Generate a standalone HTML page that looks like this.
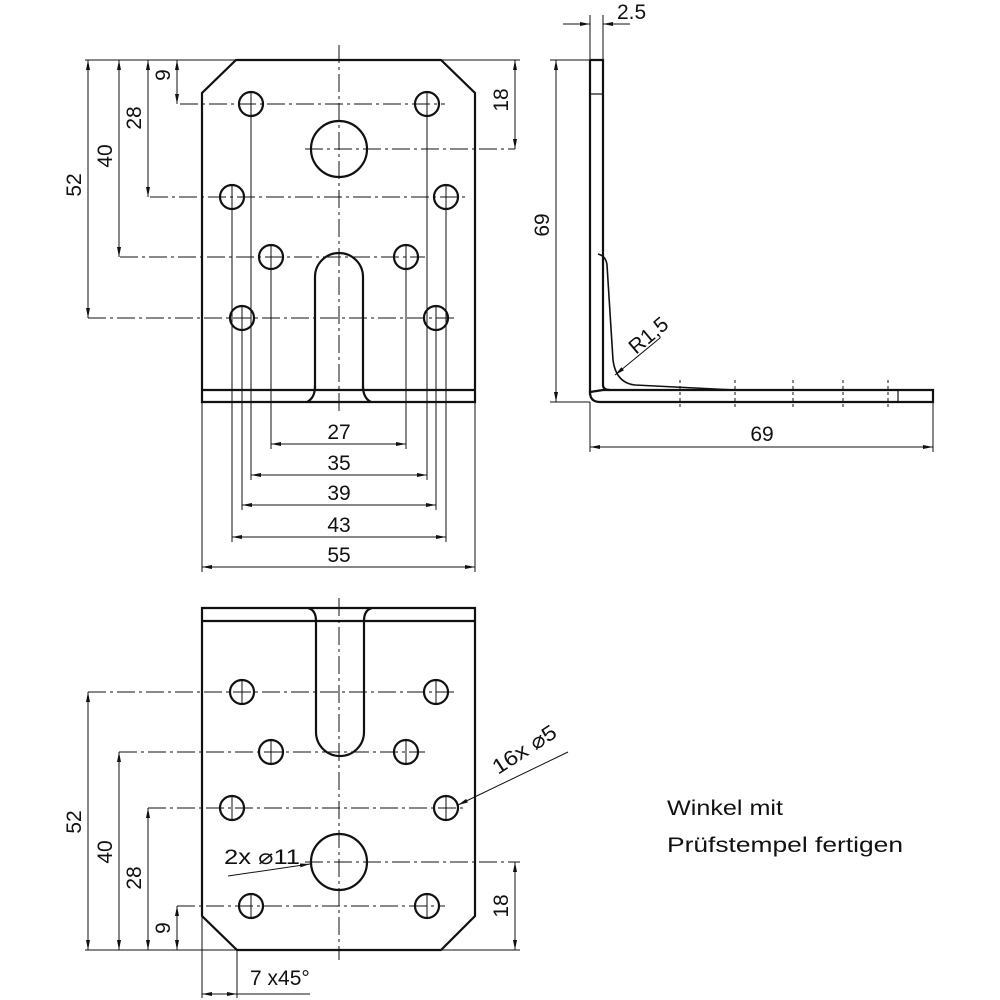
<!DOCTYPE html>
<html><head><meta charset="utf-8"><style>
html,body{margin:0;padding:0;background:#fff;}
svg{display:block}
text{font-family:"Liberation Sans",sans-serif;font-size:21px;fill:#111}
</style></head><body>
<svg width="1000" height="1000" viewBox="0 0 1000 1000" xmlns="http://www.w3.org/2000/svg">
<defs>
<marker id="a" viewBox="0 0 10 4" refX="10" refY="2" markerWidth="10" markerHeight="4" markerUnits="userSpaceOnUse" orient="auto-start-reverse"><path d="M0,0L10,2L0,4z" fill="#111"/></marker>
</defs>
<g stroke="#111" fill="none">
<!-- TOP PLATE -->
<g stroke-width="2.2">
<path d="M236,60 L441,60 L475,93 L475,402 L202,402 L202,93 Z"/>
<line x1="202" y1="390" x2="475" y2="390"/>
<path d="M315,390 L315,277 A24,24 0 0 1 363,277 L363,390"/>
<path d="M307,402 Q315,398 315,386 M371,402 Q363,398 363,386"/>
<circle cx="339" cy="149" r="28"/>
<circle cx="251" cy="104" r="12"/><circle cx="427" cy="104" r="12"/>
<circle cx="232" cy="197" r="12"/><circle cx="446" cy="197" r="12"/>
<circle cx="271" cy="257" r="12"/><circle cx="406" cy="257" r="12"/>
<circle cx="242" cy="318" r="12"/><circle cx="436" cy="318" r="12"/>
</g>
<g stroke-width="1" stroke-dasharray="18,4,3,4">
<line x1="339" y1="45" x2="339" y2="412"/>
<line x1="180" y1="104" x2="445" y2="104"/>
<line x1="150" y1="197" x2="465" y2="197"/>
<line x1="120" y1="257" x2="425" y2="257"/>
<line x1="88" y1="318" x2="455" y2="318"/>
<line x1="305" y1="149" x2="515" y2="149"/>
</g>
<g stroke-width="1">
<line x1="85" y1="60" x2="236" y2="60"/><line x1="441" y1="60" x2="520" y2="60"/>
<line x1="88" y1="60" x2="88" y2="318" marker-start="url(#a)" marker-end="url(#a)"/>
<line x1="119" y1="60" x2="119" y2="257" marker-start="url(#a)" marker-end="url(#a)"/>
<line x1="148" y1="60" x2="148" y2="197" marker-start="url(#a)" marker-end="url(#a)"/>
<line x1="177" y1="60" x2="177" y2="104" marker-start="url(#a)" marker-end="url(#a)"/>
<line x1="515" y1="60" x2="515" y2="149" marker-start="url(#a)" marker-end="url(#a)"/>
<line x1="202" y1="402" x2="202" y2="572"/><line x1="475" y1="402" x2="475" y2="572"/>
<line x1="232" y1="185" x2="232" y2="542"/><line x1="446" y1="185" x2="446" y2="542"/>
<line x1="242" y1="306" x2="242" y2="510"/><line x1="436" y1="306" x2="436" y2="510"/>
<line x1="251" y1="92" x2="251" y2="480"/><line x1="427" y1="92" x2="427" y2="480"/>
<line x1="271" y1="245" x2="271" y2="449"/><line x1="406" y1="245" x2="406" y2="449"/>
<line x1="271" y1="444" x2="406" y2="444" marker-start="url(#a)" marker-end="url(#a)"/>
<line x1="251" y1="475" x2="427" y2="475" marker-start="url(#a)" marker-end="url(#a)"/>
<line x1="242" y1="505" x2="436" y2="505" marker-start="url(#a)" marker-end="url(#a)"/>
<line x1="232" y1="537" x2="446" y2="537" marker-start="url(#a)" marker-end="url(#a)"/>
<line x1="202" y1="567" x2="475" y2="567" marker-start="url(#a)" marker-end="url(#a)"/>
</g>
<!-- SIDE VIEW -->
<g stroke-width="2.2">
<path d="M590,60 L603,60 L603,385 M603,390 L933,390 L933,402 L600,402 Q590,402 590,392 Z"/>
<path d="M603,385 Q603,390 610,390"/>
<line x1="590" y1="60" x2="590" y2="395"/>
<line x1="590" y1="94" x2="603" y2="94" stroke-width="1.2"/>
<line x1="898" y1="390" x2="898" y2="402" stroke-width="1.2"/>
<path d="M598,254 Q606,256 607,265 L613,360 Q616,383 635,385 L735,390" stroke-width="1.6"/>
</g>
<g stroke-width="1">
<line x1="550" y1="60" x2="590" y2="60"/><line x1="550" y1="402" x2="590" y2="402"/>
<line x1="556" y1="60" x2="556" y2="402" marker-start="url(#a)" marker-end="url(#a)"/>
<line x1="590" y1="402" x2="590" y2="452"/><line x1="933" y1="402" x2="933" y2="452"/>
<line x1="590" y1="447" x2="933" y2="447" marker-start="url(#a)" marker-end="url(#a)"/>
<line x1="590" y1="15" x2="590" y2="60"/><line x1="603" y1="15" x2="603" y2="60"/>
<line x1="563" y1="24" x2="590" y2="24" marker-end="url(#a)"/>
<line x1="630" y1="24" x2="603" y2="24" marker-end="url(#a)"/>
<line x1="660" y1="338" x2="615" y2="375" marker-end="url(#a)"/>
<line x1="680" y1="380" x2="680" y2="408" stroke-dasharray="3,3"/>
<line x1="735" y1="380" x2="735" y2="408" stroke-dasharray="3,3"/>
<line x1="793" y1="380" x2="793" y2="408" stroke-dasharray="3,3"/>
<line x1="843" y1="380" x2="843" y2="408" stroke-dasharray="3,3"/>
<line x1="888" y1="380" x2="888" y2="408" stroke-dasharray="3,3"/>
</g>
<!-- BOTTOM PLATE -->
<g stroke-width="2.2">
<path d="M202,608 L475,608 L475,916 L441,950 L237,950 L202,916 Z"/>
<line x1="202" y1="621" x2="475" y2="621"/>
<path d="M316,621 L316,732 A24,24 0 0 0 364,732 L364,621"/>
<path d="M308,608 Q316,610 316,621 M372,608 Q364,610 364,621"/>
<circle cx="339" cy="862" r="28"/>
<circle cx="242" cy="692" r="12"/><circle cx="436" cy="692" r="12"/>
<circle cx="271" cy="752" r="12"/><circle cx="406" cy="752" r="12"/>
<circle cx="232" cy="808" r="12"/><circle cx="446" cy="808" r="12"/>
<circle cx="251" cy="906" r="12"/><circle cx="427" cy="906" r="12"/>
</g>
<g stroke-width="1" stroke-dasharray="18,4,3,4">
<line x1="339" y1="598" x2="339" y2="960"/>
<line x1="88" y1="692" x2="455" y2="692"/>
<line x1="119" y1="752" x2="425" y2="752"/>
<line x1="148" y1="808" x2="465" y2="808"/>
<line x1="177" y1="906" x2="445" y2="906"/>
<line x1="305" y1="862" x2="520" y2="862"/>
</g>
<g stroke-width="1">
<line x1="242" y1="680" x2="242" y2="704"/><line x1="436" y1="680" x2="436" y2="704"/>
<line x1="271" y1="740" x2="271" y2="764"/><line x1="406" y1="740" x2="406" y2="764"/>
<line x1="232" y1="796" x2="232" y2="820"/><line x1="446" y1="796" x2="446" y2="820"/>
<line x1="251" y1="894" x2="251" y2="918"/><line x1="427" y1="894" x2="427" y2="918"/>
<line x1="85" y1="950" x2="237" y2="950"/><line x1="441" y1="950" x2="520" y2="950"/>
<line x1="88" y1="692" x2="88" y2="950" marker-start="url(#a)" marker-end="url(#a)"/>
<line x1="119" y1="752" x2="119" y2="950" marker-start="url(#a)" marker-end="url(#a)"/>
<line x1="148" y1="808" x2="148" y2="950" marker-start="url(#a)" marker-end="url(#a)"/>
<line x1="177" y1="906" x2="177" y2="950" marker-start="url(#a)" marker-end="url(#a)"/>
<line x1="515" y1="862" x2="515" y2="950" marker-start="url(#a)" marker-end="url(#a)"/>
<line x1="202" y1="916" x2="202" y2="998"/><line x1="237" y1="950" x2="237" y2="998"/>
<line x1="202" y1="994" x2="237" y2="994" marker-start="url(#a)" marker-end="url(#a)"/>
<line x1="237" y1="994" x2="310" y2="994"/>
<line x1="228" y1="876" x2="310" y2="864" marker-end="url(#a)"/>
<line x1="568" y1="752" x2="458" y2="805" marker-end="url(#a)"/>
</g>
</g>
<g>
<text x="339" y="439" text-anchor="middle">27</text>
<text x="339" y="470" text-anchor="middle">35</text>
<text x="339" y="500" text-anchor="middle">39</text>
<text x="339" y="532" text-anchor="middle">43</text>
<text x="339" y="562" text-anchor="middle">55</text>
<text x="762" y="441" text-anchor="middle">69</text>
<text x="617" y="19" font-size="18">2.5</text>
<text transform="translate(81,185) rotate(-90)" text-anchor="middle">52</text>
<text transform="translate(112,156) rotate(-90)" text-anchor="middle">40</text>
<text transform="translate(141,118) rotate(-90)" text-anchor="middle">28</text>
<text transform="translate(170,75) rotate(-90)" text-anchor="middle" font-size="18">9</text>
<text transform="translate(508,100) rotate(-90)" text-anchor="middle" font-size="18">18</text>
<text transform="translate(549,225) rotate(-90)" text-anchor="middle">69</text>
<text transform="translate(636,355) rotate(-40)" font-size="18">R1,5</text>
<text transform="translate(81,822) rotate(-90)" text-anchor="middle">52</text>
<text transform="translate(112,852) rotate(-90)" text-anchor="middle">40</text>
<text transform="translate(141,878) rotate(-90)" text-anchor="middle">28</text>
<text transform="translate(170,928) rotate(-90)" text-anchor="middle" font-size="18">9</text>
<text transform="translate(508,906) rotate(-90)" text-anchor="middle" font-size="18">18</text>
<text x="224" y="864" textLength="76" lengthAdjust="spacingAndGlyphs">2x  ⌀11</text>
<text transform="translate(498,775) rotate(-33)" textLength="72" lengthAdjust="spacingAndGlyphs">16x  ⌀5</text>
<text x="250" y="985">7 x45°</text>
<text x="667" y="815" font-size="24" textLength="116" lengthAdjust="spacingAndGlyphs">Winkel mit</text>
<text x="667" y="852" font-size="24" textLength="236" lengthAdjust="spacingAndGlyphs">Prüfstempel fertigen</text>
</g>
</svg>
</body></html>
